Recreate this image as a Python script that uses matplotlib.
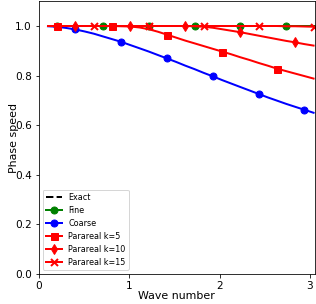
import matplotlib
matplotlib.use("Agg")
import matplotlib.pyplot as plt

wave_number = [0.101, 0.203, 0.304, 0.405, 0.507, 0.608, 0.709, 0.811, 0.912, 1.013,
               1.115, 1.216, 1.317, 1.419, 1.520, 1.621, 1.723, 1.824, 1.925, 2.027,
               2.128, 2.229, 2.331, 2.432, 2.533, 2.635, 2.736, 2.837, 2.939, 3.040]

exact = [1.0] * 30
fine = [1.0] * 30
coarse = [0.999, 0.997, 0.992, 0.986, 0.978, 0.969, 0.958, 0.947, 0.936, 0.923,
          0.910, 0.897, 0.883, 0.869, 0.855, 0.840, 0.826, 0.811, 0.797, 0.782,
          0.768, 0.754, 0.740, 0.726, 0.712, 0.699, 0.686, 0.674, 0.662, 0.650]
para_k5 = [1.000, 1.000, 1.000, 1.000, 1.000, 1.000, 1.000, 1.000, 0.999, 0.998,
           0.994, 0.987, 0.977, 0.965, 0.953, 0.941, 0.930, 0.919, 0.908, 0.897,
           0.886, 0.874, 0.863, 0.851, 0.840, 0.828, 0.818, 0.808, 0.798, 0.788]
para_k10 = [1.000] * 16 + [0.999, 0.997, 0.993, 0.987, 0.981, 0.975, 0.968, 0.961,
                           0.954, 0.947, 0.940, 0.934, 0.927, 0.921]
para_k15 = [1.000] * 26 + [0.999, 0.999, 0.998, 0.997]

plt.rcParams['font.size'] = 11
plt.rcParams['xtick.labelsize'] = 10.5
plt.rcParams['ytick.labelsize'] = 10.5
fig = plt.figure(figsize=(316 / 72, 304 / 72), dpi=72)
ax = fig.add_axes([0.123, 0.099, 0.873, 0.897])

kw = dict(lw=2, ms=7)
ax.plot(wave_number, exact, 'k--', lw=2, label='Exact')
ax.plot(wave_number, fine, 'g-o', markevery=(1, 5), label='Fine', **kw)
ax.plot(wave_number, coarse, 'b-o', markevery=(3, 5), label='Coarse', **kw)
ax.plot(wave_number, para_k5, 'r-s', markevery=(1, 6), label='Parareal k=5', **kw)
ax.plot(wave_number, para_k10, 'r-d', markevery=(3, 6), label='Parareal k=10', **kw)
ax.plot(wave_number, para_k15, 'r-x', markevery=(5, 6), label='Parareal k=15', mew=2, **kw)

ax.set_xlim(0, 3.053)
ax.set_ylim(0, 1.1)
ax.set_xticks([0, 1, 2, 3])
ax.set_yticks([0.0, 0.2, 0.4, 0.6, 0.8, 1.0])
ax.set_xlabel('Wave number', labelpad=0)
ax.set_ylabel('Phase speed')
ax.yaxis.set_label_coords(-0.072, 0.5)
ax.legend(loc='lower left', fontsize=8)

fig.savefig('out.png', dpi=72)
